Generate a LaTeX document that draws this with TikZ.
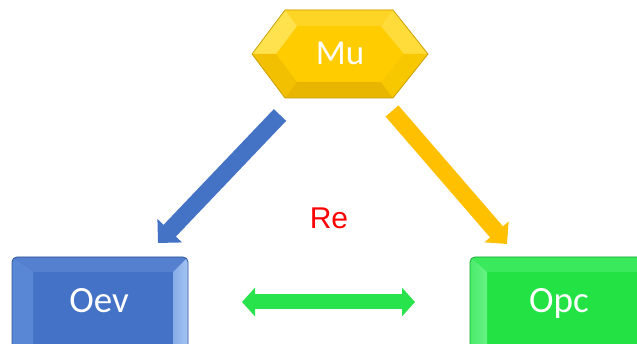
\documentclass[tikz,border=0pt]{standalone}
\usepackage{fontspec}
\setmainfont{Carlito}
\newfontfamily\arialf{Liberation Sans}
\usetikzlibrary{arrows.meta}
\definecolor{bface}{HTML}{4472C6}
\definecolor{btop}{HTML}{5580D0}
\definecolor{bleft}{HTML}{5A86D6}
\definecolor{bright}{HTML}{A4C4F4}
\definecolor{bedge}{HTML}{2F5597}
\definecolor{gface}{HTML}{22E244}
\definecolor{gtop}{HTML}{3AEA5C}
\definecolor{gleft}{HTML}{66F285}
\definecolor{gedge}{HTML}{18A630}
\definecolor{yface}{HTML}{FFCC00}
\definecolor{ytop}{HTML}{FFD525}
\definecolor{yul}{HTML}{FFE24D}
\definecolor{yll}{HTML}{F2C000}
\definecolor{ybot}{HTML}{E8B600}
\definecolor{yur}{HTML}{FFDC3A}
\definecolor{ylr}{HTML}{F7C800}
\definecolor{yedge}{HTML}{C89B00}
\definecolor{arrblue}{HTML}{4472C4}
\definecolor{arryellow}{HTML}{FFC000}
\definecolor{arrgreen}{HTML}{28E34C}
\tikzset{
  lbl/.style={text=white, inner sep=0pt, anchor=base},
  fatarrow/.style={line width=17pt},
}
\begin{document}
\begin{tikzpicture}[x=1pt,y=-1pt]
\useasboundingbox (0,0) rectangle (637,344);
\fill[white] (0,0) rectangle (637,344);
\begin{scope}
\clip (0,0) rectangle (637,344);
% Oev box
\begin{scope}
\clip[rounded corners=5pt] (12,257) rectangle (188,366);
\fill[bface] (12,257) rectangle (188,366);
\fill[btop] (12,257) -- (188,257) -- (173,272) -- (33,272) -- cycle;
\fill[bleft] (12,257) -- (33,272) -- (33,352) -- (12,366) -- cycle;
\shade[left color=bright!70!bface, right color=bright] (188,257) -- (173,272) -- (173,352) -- (188,366) -- cycle;
\end{scope}
\draw[bedge, line width=0.8pt, rounded corners=5pt] (12,257) rectangle (188,366);
% Opc box
\begin{scope}
\clip[rounded corners=5pt] (470,257) rectangle (652,366);
\fill[gface] (470,257) rectangle (652,366);
\fill[gtop] (470,257) -- (652,257) -- (637,272) -- (487,272) -- cycle;
\shade[left color=gleft!60!gface, right color=gleft] (470,257) -- (487,272) -- (487,352) -- (470,366) -- cycle;
\end{scope}
\draw[gedge, line width=0.8pt, rounded corners=5pt] (470,257) rectangle (652,366);
\end{scope}
% Mu hexagon
\fill[yface] (252,54) -- (285,10) -- (393,10) -- (428,54) -- (393,98) -- (285,98) -- cycle;
\fill[ytop] (285,10) -- (393,10) -- (381,26) -- (297,26) -- cycle;
\fill[yul] (252,54) -- (285,10) -- (297,26) -- (276,54) -- cycle;
\fill[yll] (252,54) -- (276,54) -- (297,82) -- (285,98) -- cycle;
\fill[ybot] (285,98) -- (297,82) -- (381,82) -- (393,98) -- cycle;
\fill[yur] (393,10) -- (428,54) -- (404,54) -- (381,26) -- cycle;
\fill[ylr] (428,54) -- (393,98) -- (381,82) -- (404,54) -- cycle;
\draw[yedge, line width=0.7pt, line join=round] (252,54) -- (285,10) -- (393,10) -- (428,54) -- (393,98) -- (285,98) -- cycle;
% labels
\node[lbl, font=\fontsize{35}{40}\selectfont] (mu) at (340,65) {Mu};
\node[lbl, font=\fontsize{37}{42}\selectfont] (oev) at (99,313) {Oev};
\node[lbl, font=\fontsize{37}{42}\selectfont] (opc) at (559,313) {Opc};
\node[inner sep=0pt, anchor=base, text=red, font=\arialf\fontsize{30}{34}\selectfont] (re) at (329,229) {Re};
% arrows
\coordinate (b1) at (280,115);
\coordinate (b2) at (158,243);
\coordinate (y1) at (392,111);
\coordinate (y2) at (507,244);
\coordinate (g1) at (242,302);
\coordinate (g2) at (415,302);
\draw[fatarrow, arrblue, -{Triangle[width=33pt,length=17pt]}] (b1) -- (b2);
\draw[fatarrow, arryellow, -{Triangle[width=31pt,length=16pt]}] (y1) -- (y2);
\draw[line width=15pt, arrgreen, {Triangle[width=28pt,length=13pt]}-{Triangle[width=28pt,length=13pt]}] (g1) -- (g2);
\end{tikzpicture}
\end{document}
